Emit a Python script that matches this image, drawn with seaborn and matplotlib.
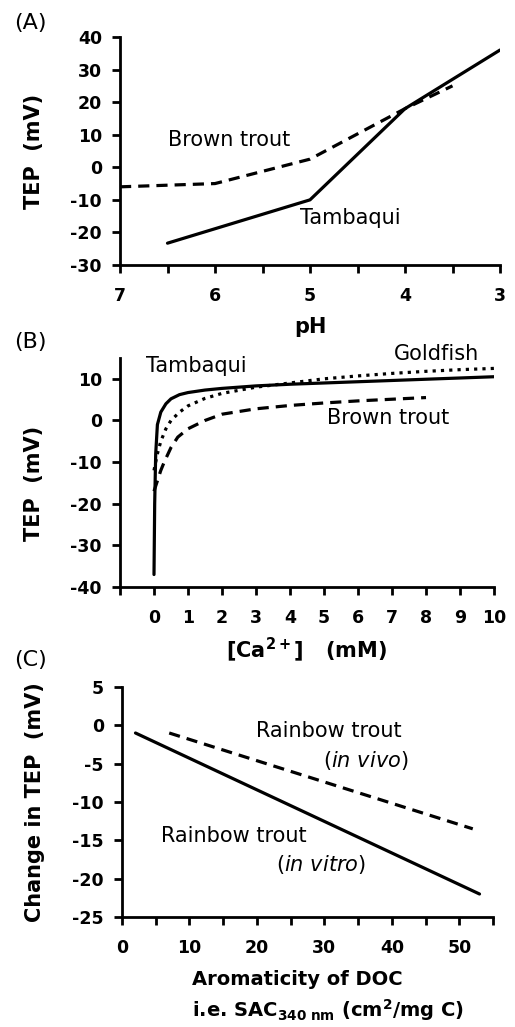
import matplotlib
matplotlib.use("Agg")
import matplotlib.pyplot as plt
import pandas as pd
import seaborn as sns

# (A) TEP vs pH
ph_tambaqui = [6.5, 5.0, 4.0, 3.0]
tep_tambaqui_ph = [-23.3, -10.0, 18.0, 36.0]
ph_brown = [7.0, 6.0, 5.0, 4.0, 3.5]
tep_brown_ph = [-6.0, -5.0, 2.5, 18.0, 25.0]

# (B) TEP vs [Ca2+]
ca_tambaqui = [0.0, 0.02, 0.05, 0.1, 0.2, 0.35, 0.5, 0.75, 1.0, 1.5, 2.0, 3.0, 4.0, 5.0, 6.0, 7.0, 8.0, 9.0, 10.0]
tep_tambaqui_ca = [-37.0, -20.0, -8.0, -1.0, 2.0, 4.0, 5.2, 6.2, 6.7, 7.3, 7.7, 8.3, 8.7, 9.0, 9.3, 9.6, 9.9, 10.2, 10.5]
ca_goldfish = [0.0, 0.1, 0.2, 0.35, 0.5, 0.75, 1.0, 1.5, 2.0, 3.0, 4.0, 5.0, 6.0, 7.0, 8.0, 9.0, 10.0]
tep_goldfish_ca = [-12.0, -8.0, -5.0, -2.0, 0.0, 2.0, 3.5, 5.3, 6.5, 8.0, 9.0, 10.0, 10.7, 11.3, 11.8, 12.2, 12.5]
ca_brown = [0.0, 0.1, 0.2, 0.3, 0.5, 0.7, 1.0, 1.5, 2.0, 3.0, 4.0, 5.0, 6.0, 7.0, 8.0]
tep_brown_ca = [-17.0, -14.5, -12.0, -10.0, -6.5, -4.0, -2.0, 0.0, 1.5, 2.8, 3.6, 4.2, 4.7, 5.1, 5.5]

# (C) change in TEP vs DOC aromaticity
sac_vitro = [2.0, 53.0]
dtep_vitro = [-1.0, -22.0]
sac_vivo = [7.0, 52.0]
dtep_vivo = [-1.0, -13.5]

sns.set_style("ticks")
plt.rcParams["font.family"] = ["DejaVu Sans"]
plt.rcParams["mathtext.fontset"] = "dejavusans"
plt.rcParams["axes.unicode_minus"] = False

fig = plt.figure(figsize=(5.15, 10.27), dpi=100)
W, H = 515, 1027

TICK = 12.5
LAB = 15
ANN = 15
lw = 2.3
dash = (0, (3.5, 2.2))
dots = (0, (1, 1.6))


def add_ax(left, top, right, bottom):
    return fig.add_axes([left / W, 1 - bottom / H, (right - left) / W, (bottom - top) / H])


def style(ax, minor=False):
    sns.despine(ax=ax)
    for s in ["left", "bottom"]:
        ax.spines[s].set_linewidth(2)
        ax.spines[s].set_color("black")
    ax.tick_params(width=2, length=6, color="black", labelsize=TICK, labelcolor="black")
    ax.tick_params(axis="x", pad=10)
    ax.tick_params(axis="y", pad=7)
    if minor:
        ax.tick_params(axis="x", which="minor", width=2, length=6, color="black")
    for lab in ax.get_xticklabels() + ax.get_yticklabels():
        lab.set_fontweight("bold")


def place_labels(ax, xl, yl):
    ax.xaxis.set_label_coords(*xl)
    ax.xaxis.label.set_va("center")
    ax.yaxis.set_label_coords(*yl)
    ax.yaxis.label.set_va("center")


# ---- (A)
axA = add_ax(120, 37, 500, 265)
dfA1 = pd.DataFrame({"x": ph_tambaqui, "y": tep_tambaqui_ph})
dfA2 = pd.DataFrame({"x": ph_brown, "y": tep_brown_ph})
sns.lineplot(data=dfA1, x="x", y="y", ax=axA, color="black", lw=lw, sort=False)
sns.lineplot(data=dfA2, x="x", y="y", ax=axA, color="black", lw=lw, sort=False, linestyle=dash)
axA.set_xlim(7, 3)
axA.set_ylim(-30, 40)
axA.set_xticks([7, 6, 5, 4, 3])
axA.set_xticks([6.5, 5.5, 4.5, 3.5], minor=True)
axA.set_yticks(range(-30, 41, 10))
axA.set_xlabel("pH", fontsize=LAB, fontweight="bold", color="black")
axA.set_ylabel("TEP  (mV)", fontsize=LAB, fontweight="bold", color="black")
place_labels(axA, (0.5, -0.27), (-0.226, 0.5))
style(axA, minor=True)
axA.text(5.85, 8.5, "Brown trout", fontsize=ANN, ha="center", va="center", color="black")
axA.text(4.58, -15.5, "Tambaqui", fontsize=ANN, ha="center", va="center", color="black")
fig.text(14 / W, 1 - 23 / H, "(A)", fontsize=16, ha="left", va="center", color="black")

# ---- (B)
axB = add_ax(120, 358, 494, 587)
dfB1 = pd.DataFrame({"x": ca_tambaqui, "y": tep_tambaqui_ca})
dfB2 = pd.DataFrame({"x": ca_goldfish, "y": tep_goldfish_ca})
dfB3 = pd.DataFrame({"x": ca_brown, "y": tep_brown_ca})
sns.lineplot(data=dfB1, x="x", y="y", ax=axB, color="black", lw=lw, sort=False)
sns.lineplot(data=dfB2, x="x", y="y", ax=axB, color="black", lw=lw, sort=False, linestyle=dots)
sns.lineplot(data=dfB3, x="x", y="y", ax=axB, color="black", lw=lw, sort=False, linestyle=dash)
axB.set_xlim(-1, 10)
axB.set_ylim(-40, 15)
axB.set_xticks(range(-1, 11))
axB.set_xticklabels([""] + [str(i) for i in range(0, 11)])
axB.set_yticks(range(-40, 11, 10))
axB.set_xlabel(r"[Ca$^{\mathbf{2+}}$]   (mM)", fontsize=LAB, fontweight="bold", color="black")
axB.set_ylabel("TEP  (mV)", fontsize=LAB, fontweight="bold", color="black")
place_labels(axB, (0.5, -0.275), (-0.23, 0.454))
style(axB)
axB.text(1.24, 13.1, "Tambaqui", fontsize=ANN, ha="center", va="center", color="black")
axB.text(8.3, 16.0, "Goldfish", fontsize=ANN, ha="center", va="center", color="black")
axB.text(6.9, 0.6, "Brown trout", fontsize=ANN, ha="center", va="center", color="black")
fig.text(14 / W, 1 - 342 / H, "(B)", fontsize=16, ha="left", va="center", color="black")

# ---- (C)
axC = add_ax(122, 687, 493, 917)
dfC1 = pd.DataFrame({"x": sac_vitro, "y": dtep_vitro})
dfC2 = pd.DataFrame({"x": sac_vivo, "y": dtep_vivo})
sns.lineplot(data=dfC1, x="x", y="y", ax=axC, color="black", lw=lw, sort=False)
sns.lineplot(data=dfC2, x="x", y="y", ax=axC, color="black", lw=lw, sort=False, linestyle=dash)
axC.set_xlim(0, 55)
axC.set_ylim(-25, 5)
axC.set_xticks(range(0, 51, 10))
axC.set_xticks(range(5, 56, 10), minor=True)
axC.set_yticks(range(-25, 6, 5))
axC.set_xlabel("Aromaticity of DOC\ni.e. SAC$_{\\mathbf{340\\ nm}}$ (cm$^{\\mathbf{2}}$/mg C)",
               fontsize=14, fontweight="bold", linespacing=1.4, multialignment="left",
               color="black")
axC.set_ylabel("Change in TEP  (mV)", fontsize=LAB, fontweight="bold", color="black")
place_labels(axC, (0.19, -0.345), (-0.234, 0.5))
axC.xaxis.label.set_ha("left")
style(axC, minor=True)
axC.text(30.7, -0.75, "Rainbow trout", fontsize=ANN, ha="center", va="center", color="black")
axC.text(36.2, -4.65, r"($\mathit{in\ vivo}$)", fontsize=ANN, ha="center", va="center", color="black")
axC.text(16.6, -14.4, "Rainbow trout", fontsize=ANN, ha="center", va="center", color="black")
axC.text(29.5, -18.2, r"($\mathit{in\ vitro}$)", fontsize=ANN, ha="center", va="center", color="black")
fig.text(14 / W, 1 - 660 / H, "(C)", fontsize=16, ha="left", va="center", color="black")

fig.savefig("out.png", dpi=100)
